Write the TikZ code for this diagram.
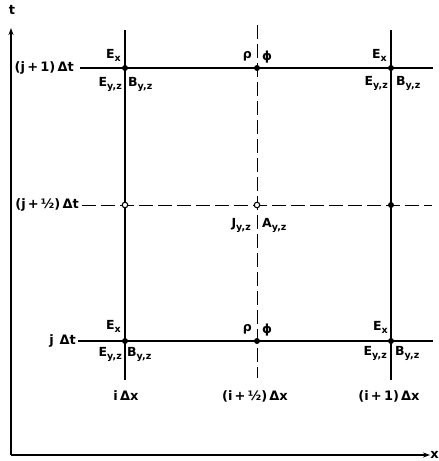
\documentclass[tikz,border=0pt]{standalone}
\usepackage{fontspec}
\setmainfont{DejaVu Sans}
\usetikzlibrary{arrows.meta}
\newcommand\lowr[1]{\raisebox{-0.45ex}{\fontsize{9.5}{9.5}\selectfont #1}}
\begin{document}
\begin{tikzpicture}[x=1pt,y={(0pt,-1pt)},
  lbl/.style={inner sep=0pt,font=\fontsize{12.5}{12.5}\selectfont\bfseries},
  big/.style={inner sep=0pt,font=\fontsize{13}{13}\selectfont\bfseries},
  gridline/.style={line width=1.2pt},
  dashline/.style={line width=0.9pt,dash pattern=on 14pt off 5pt},
  axis/.style={line width=1.3pt,-{Stealth[length=7pt,width=5pt]}},
  dotf/.style={circle,fill=black,inner sep=0pt,minimum size=6pt},
  doto/.style={circle,draw=black,fill=white,line width=1.1pt,inner sep=0pt,minimum size=5.5pt}]
\useasboundingbox (0,0) rectangle (439,461);
% axes
\coordinate (O) at (11,455);
\coordinate (T) at (11,28);
\coordinate (X) at (430,455);
\draw[axis] (O) -- (T);
\draw[axis] (O) -- (X);
\node[big] (tl) at (12,10) {t};
\node[big,anchor=east] (xl) at (439,455) {x};
% grid points
\coordinate (P0) at (125,341); \coordinate (P1) at (125,205); \coordinate (P2) at (125,68);
\coordinate (M0) at (257,341); \coordinate (M1) at (257,205); \coordinate (M2) at (257,68);
\coordinate (R0) at (391,341); \coordinate (R1) at (391,205); \coordinate (R2) at (391,68);
% line ends
\coordinate (Ltop) at (125,30);  \coordinate (Lbot) at (125,380);
\coordinate (Rtop) at (391,30);  \coordinate (Rbot) at (391,380);
\coordinate (Mtop) at (257,25);  \coordinate (Mbot) at (257,378);
\coordinate (H2a) at (80,68);  \coordinate (H2b) at (433,68);
\coordinate (H1a) at (82,205); \coordinate (H1b) at (432,205);
\coordinate (H0a) at (78,341); \coordinate (H0b) at (433,341);
\draw[gridline] (Ltop) -- (Lbot);
\draw[gridline] (Rtop) -- (Rbot);
\draw[gridline] (H2a) -- (H2b);
\draw[gridline] (H0a) -- (H0b);
\draw[dashline] (Mtop) -- (Mbot);
\draw[dashline] (H1a) -- (H1b);
% dots
\node[dotf] (d02) at (P2) {}; \node[dotf] (d12) at (M2) {}; \node[dotf] (d22) at (R2) {};
\node[dotf] (d00) at (P0) {}; \node[dotf] (d10) at (M0) {}; \node[dotf] (d20) at (R0) {};
\node[dotf] (d21) at (R1) {};
\node[doto] (d01) at (P1) {}; \node[doto] (d11) at (M1) {};
% row labels
\node[big,anchor=east] (r2) at (74,68) {(j\,+\,1)\,Δt};
\node[big,anchor=east] (r1) at (79,205) {(j\,+\,½)\,Δt};
\node[big,anchor=east] (r0) at (76,341) {j\;\,Δt};
% column labels
\node[big] (c0) at (126,396) {i\,Δx};
\node[big] (c1) at (255,396) {(i\,+\,½)\,Δx};
\node[big] (c2) at (389,396) {(i\,+\,1)\,Δx};
% top row field labels
\node[lbl,anchor=south east] (ex2l) at ([xshift=-4pt,yshift=6pt]P2) {E\lowr{x}};
\node[lbl,anchor=north east] (ey2l) at ([xshift=-3pt,yshift=-9pt]P2) {E\lowr{y,z}};
\node[lbl,anchor=north west] (by2l) at ([xshift=3pt,yshift=-9pt]P2) {B\lowr{y,z}};
\node[lbl,anchor=south east] (rho2) at ([xshift=-5pt,yshift=7pt]M2) {ρ};
\node[lbl,anchor=south west] (phi2) at ([xshift=5pt,yshift=5pt]M2) {ϕ};
\node[lbl,anchor=south east] (ex2r) at ([xshift=-4pt,yshift=6pt]R2) {E\lowr{x}};
\node[lbl,anchor=north east] (ey2r) at ([xshift=-3pt,yshift=-8pt]R2) {E\lowr{y,z}};
\node[lbl,anchor=north west] (by2r) at ([xshift=5pt,yshift=-8pt]R2) {B\lowr{y,z}};
% middle row
\node[lbl,anchor=north east] (jyz) at ([xshift=-6pt,yshift=-13pt]M1) {J\lowr{y,z}};
\node[lbl,anchor=north west] (ayz) at ([xshift=5pt,yshift=-13pt]M1) {A\lowr{y,z}};
% bottom row field labels
\node[lbl,anchor=south east] (ex0l) at ([xshift=-4pt,yshift=8pt]P0) {E\lowr{x}};
\node[lbl,anchor=north east] (ey0l) at ([xshift=-3pt,yshift=-6pt]P0) {E\lowr{y,z}};
\node[lbl,anchor=north west] (by0l) at ([xshift=2pt,yshift=-6pt]P0) {B\lowr{y,z}};
\node[lbl,anchor=south east] (rho0) at ([xshift=-5pt,yshift=7pt]M0) {ρ};
\node[lbl,anchor=south west] (phi0) at ([xshift=5pt,yshift=5pt]M0) {ϕ};
\node[lbl,anchor=south east] (ex0r) at ([xshift=-3pt,yshift=7pt]R0) {E\lowr{x}};
\node[lbl,anchor=north east] (ey0r) at ([xshift=-4pt,yshift=-5pt]R0) {E\lowr{y,z}};
\node[lbl,anchor=north west] (by0r) at ([xshift=4pt,yshift=-5pt]R0) {B\lowr{y,z}};
\end{tikzpicture}
\end{document}
